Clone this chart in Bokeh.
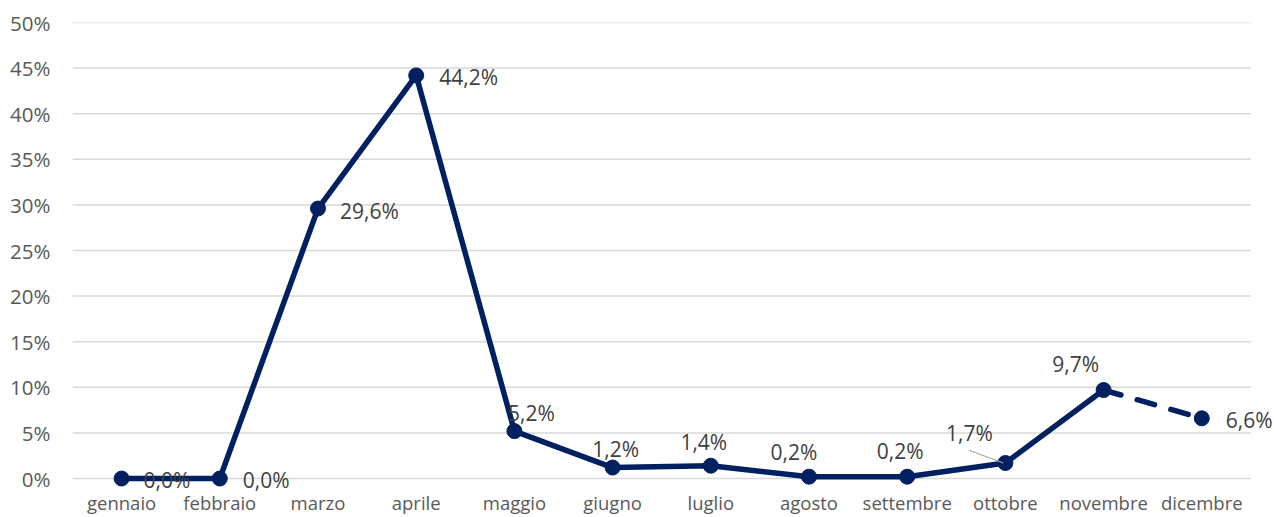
from bokeh.plotting import figure
from bokeh.models import ColumnDataSource, FixedTicker, Range1d, LabelSet
from bokeh.core.properties import value
from bokeh.embed import file_html
from bokeh.resources import INLINE

months = ["gennaio", "febbraio", "marzo", "aprile", "maggio", "giugno",
          "luglio", "agosto", "settembre", "ottobre", "novembre", "dicembre"]
values = [0.0, 0.0, 29.6, 44.2, 5.2, 1.2, 1.4, 0.2, 0.2, 1.7, 9.7, 6.6]
labels = ["0,0%", "0,0%", "29,6%", "44,2%", "5,2%", "1,2%", "1,4%", "0,2%",
          "0,2%", "1,7%", "9,7%", "6,6%"]
y_ticks = [0, 5, 10, 15, 20, 25, 30, 35, 40, 45, 50]
y_tick_labels = ["0%", "5%", "10%", "15%", "20%", "25%", "30%", "35%", "40%", "45%", "50%"]

# label placement (screen px offsets from the point, positive = up), styling only
label_dx = [22, 23, 22, 23, 17, 3, -7, -15, -7, -36, -28, 24]
label_dy = [-1, -1, -2, -1.5, 18.5, 18.5, 24, 25, 26, 30, 26, -2]
label_align = ["left", "left", "left", "left", "center", "center", "center",
               "center", "center", "center", "center", "left"]

NAVY = "#002060"
GRID = "#d9d9d9"

xs = list(range(len(months)))
n = len(months)

p = figure(width=1272, height=517, x_range=Range1d(-0.5, n - 0.5 + 0.22),
           y_range=Range1d(-1.535, 50),
           output_backend="svg", toolbar_location=None,
           min_border_left=72, min_border_right=0, min_border_top=22, min_border_bottom=10)
p.outline_line_color = None
p.background_fill_color = "white"
p.border_fill_color = "white"
p.xgrid.grid_line_color = None
p.ygrid.grid_line_color = None

# axes
p.yaxis.ticker = FixedTicker(ticks=y_ticks)
p.yaxis.major_label_overrides = {t: l for t, l in zip(y_ticks, y_tick_labels)}
p.yaxis.axis_line_color = None
p.yaxis.major_tick_line_color = None
p.yaxis.minor_tick_line_color = None
p.yaxis.major_label_standoff = 16
p.yaxis.major_label_text_font = "Open Sans"
p.yaxis.major_label_text_font_size = "20.5px"
p.yaxis.major_label_text_color = "#595959"

p.xaxis.ticker = FixedTicker(ticks=xs)
p.xaxis.major_label_overrides = {i: m for i, m in zip(xs, months)}
p.xaxis.axis_line_color = None
p.xaxis.major_tick_line_color = None
p.xaxis.minor_tick_line_color = None
p.xaxis.major_label_standoff = -9
p.xaxis.major_label_text_font = "Open Sans"
p.xaxis.major_label_text_font_size = "18.5px"
p.xaxis.major_label_text_color = "#595959"

# horizontal gridlines at the y ticks, spanning the category band
p.segment(x0=[-0.5] * len(y_ticks), x1=[n - 0.5] * len(y_ticks), y0=y_ticks, y1=y_ticks,
          line_color=GRID, line_width=1.5)

src = ColumnDataSource(dict(x=xs, v=values, lab=labels, dx=label_dx,
                            dy=label_dy, al=label_align))
solid = ColumnDataSource(dict(x=xs[:11], v=values[:11]))
dashed = ColumnDataSource(dict(x=xs[10:], v=values[10:]))

p.line("x", "v", source=solid, line_color=NAVY, line_width=5.5, line_join="round")
p.line("x", "v", source=dashed, line_color=NAVY, line_width=5.5,
       line_dash="18 17", line_cap="round")
p.scatter("x", "v", source=src, size=15, fill_color=NAVY, line_color=NAVY)

# leader line for "ottobre" label
i = months.index("ottobre")
p.segment(x0=[i - 0.37], y0=[values[i] + 1.4], x1=[i - 0.02], y1=[values[i]],
          line_color="#a6a6a6", line_width=1.2)

p.add_layout(LabelSet(x="x", y="v", text="lab", source=src, x_offset="dx", y_offset="dy",
                      text_align="al", text_baseline="middle", text_font=value("Open Sans"),
                      text_font_size="21px", text_color="#404040"))

open("out.html", "w").write(file_html(p, INLINE))
